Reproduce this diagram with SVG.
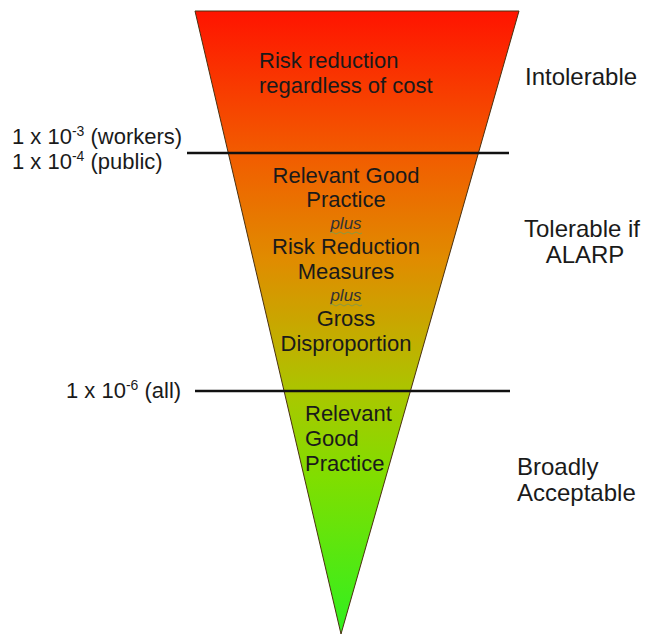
<svg xmlns="http://www.w3.org/2000/svg" width="652" height="637" viewBox="0 0 652 637">
<defs>
<linearGradient id="g" x1="0" y1="11" x2="0" y2="634" gradientUnits="userSpaceOnUse">
<stop offset="0" stop-color="#ff1400"/>
<stop offset="0.23" stop-color="#f25c00"/>
<stop offset="0.4" stop-color="#e08c00"/>
<stop offset="0.52" stop-color="#c4ac00"/>
<stop offset="0.62" stop-color="#a8c800"/>
<stop offset="0.75" stop-color="#80de00"/>
<stop offset="1" stop-color="#30f020"/>
</linearGradient>
<style>
text{font-family:"Liberation Sans",Arial,sans-serif;font-size:22px;fill:#1a1a1a}
.c{text-anchor:middle}
.r{font-size:24px}
.i{font-style:italic;font-size:17px;fill:#333}
.l{stroke:#111;stroke-width:2.5}
.sq{fill:none;stroke:#8a9a40;stroke-width:1}
</style>
</defs>
<g id="triangle">
<polygon points="195,11 519,11 341,634" fill="url(#g)" stroke="#4a3010" stroke-width="1"/>
</g>
<g id="connectors">
<line class="l" x1="187" y1="153" x2="509" y2="153"/>
<line class="l" x1="195" y1="391" x2="510" y2="391"/>
</g>
<g id="intolerable-zone">
<text x="259" y="68">Risk reduction</text>
<text x="259" y="93">regardless of cost</text>
</g>
<g id="alarp-zone">
<text class="c" x="346" y="183">Relevant Good</text>
<text class="c" x="346" y="207">Practice</text>
<text class="c i" x="346" y="229">plus</text>
<path class="sq" d="M330,233 q2,-2 4,0 t4,0 t4,0 t4,0 t4,0 t4,0 t4,0 t4,0"/>
<text class="c" x="346" y="254">Risk Reduction</text>
<text class="c" x="346" y="279">Measures</text>
<text class="c i" x="346" y="301">plus</text>
<path class="sq" d="M330,305 q2,-2 4,0 t4,0 t4,0 t4,0 t4,0 t4,0 t4,0 t4,0"/>
<text class="c" x="346" y="326">Gross</text>
<text class="c" x="346" y="351">Disproportion</text>
</g>
<g id="acceptable-zone">
<text x="305" y="421">Relevant</text>
<text x="305" y="446">Good</text>
<text x="305" y="471">Practice</text>
</g>
<g id="labels-right">
<text class="r" x="525" y="85">Intolerable</text>
<text class="c r" x="582" y="237">Tolerable if</text>
<text class="c r" x="585" y="263">ALARP</text>
<text class="r" x="517" y="475">Broadly</text>
<text class="r" x="517" y="501">Acceptable</text>
</g>
<g id="labels-left">
<text x="12" y="144">1 x 10<tspan font-size="14" dy="-8">-3</tspan><tspan dy="8"> (workers)</tspan></text>
<text x="12" y="169">1 x 10<tspan font-size="14" dy="-8">-4</tspan><tspan dy="8"> (public)</tspan></text>
<text x="66" y="398">1 x 10<tspan font-size="14" dy="-8">-6</tspan><tspan dy="8"> (all)</tspan></text>
</g>
</svg>
